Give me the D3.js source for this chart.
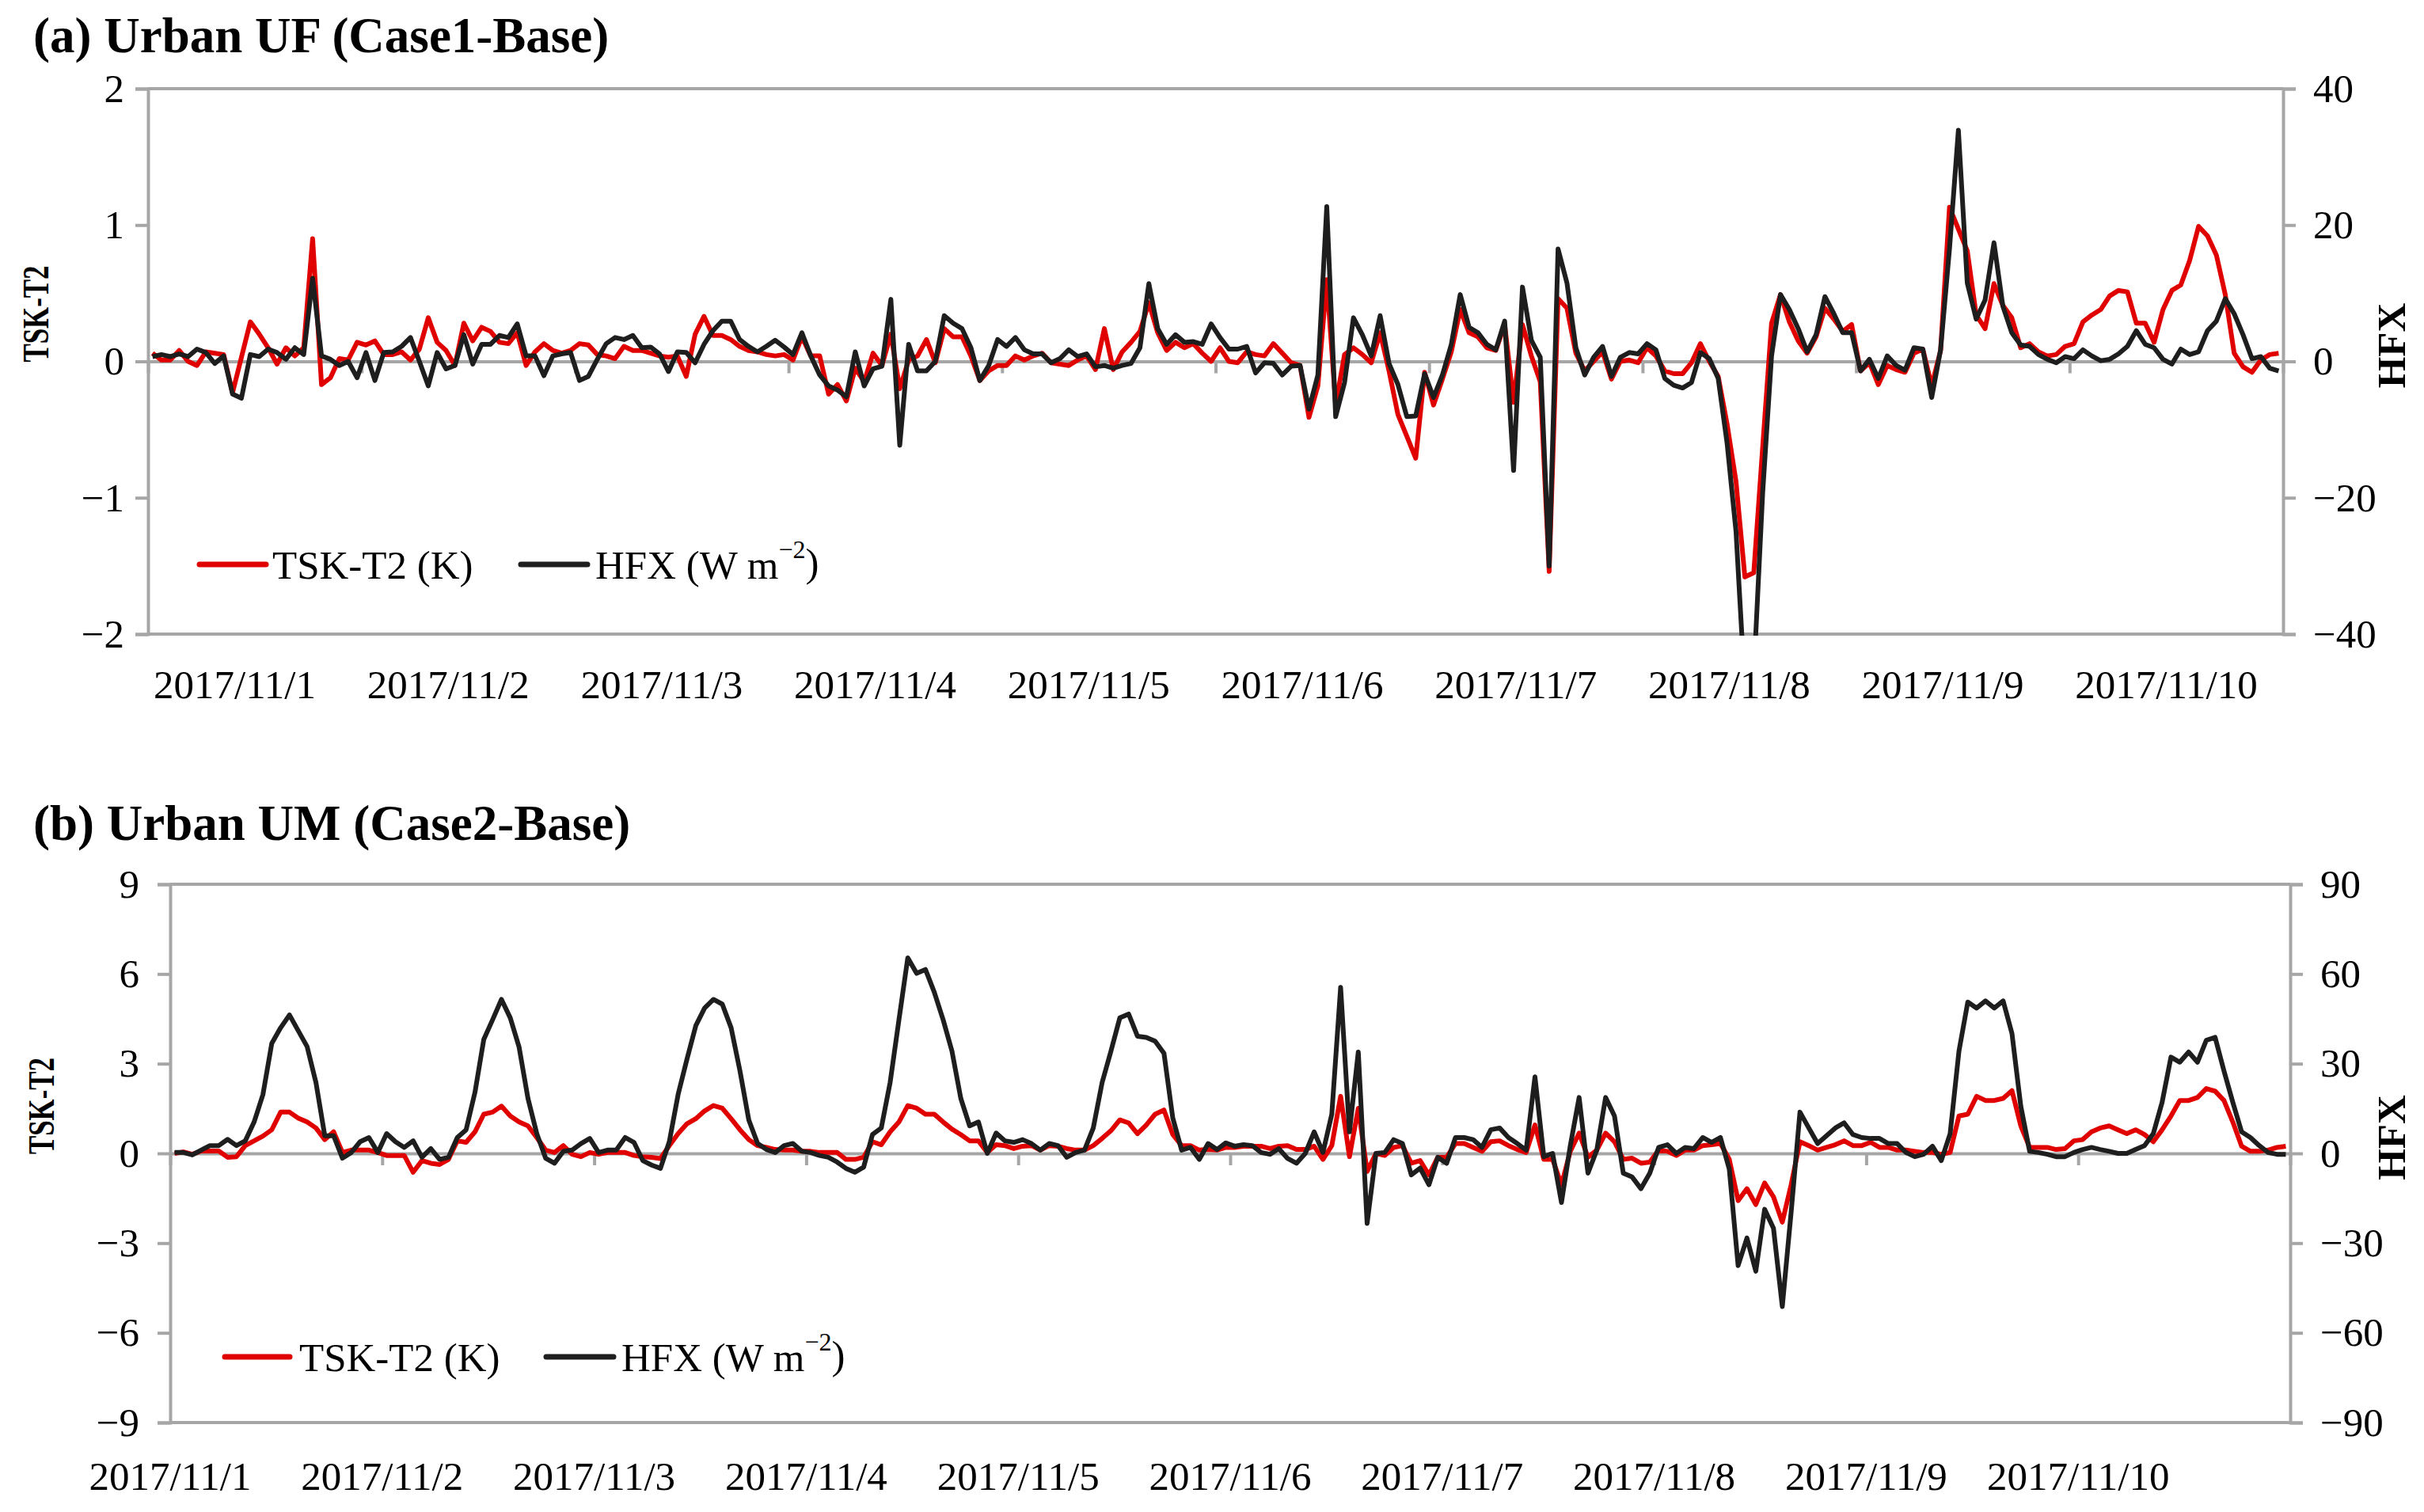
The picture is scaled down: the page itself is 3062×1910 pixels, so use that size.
<!DOCTYPE html>
<html><head><meta charset="utf-8">
<script src="https://cdn.jsdelivr.net/npm/d3@7"></script>
<style>
body{margin:0;background:#fff}
svg text{font-family:"Liberation Serif","Times New Roman",serif;fill:#000}
</style></head>
<body><svg id="c" width="3062" height="1910"></svg>
<script>
const days = ["2017/11/1","2017/11/2","2017/11/3","2017/11/4","2017/11/5","2017/11/6","2017/11/7","2017/11/8","2017/11/9","2017/11/10"];

// Panel (a) Urban UF (Case1-Base), hourly
const ufT = [0.06,0.01,0.01,0.08,0.00,-0.03,0.07,0.06,0.05,-0.23,0.03,0.29,0.20,0.10,-0.02,0.10,0.04,0.10,0.90,-0.17,-0.12,0.02,0.01,0.14,0.12,0.15,0.05,0.05,0.07,0.01,0.09,0.32,0.14,0.08,-0.03,0.28,0.15,0.25,0.22,0.14,0.13,0.21,-0.03,0.07,0.13,0.08,0.06,0.08,0.13,
0.12,0.05,0.04,0.02,0.11,0.08,0.08,0.06,0.04,0.03,0.04,-0.11,0.20,0.33,0.19,0.19,0.16,0.11,0.08,0.07,0.05,0.04,0.05,0.01,0.18,0.04,0.04,-0.24,-0.17,-0.29,-0.05,-0.15,0.06,-0.03,0.20,-0.20,0.01,0.04,0.16,-0.01,0.24,0.18,0.18,0.04,-0.14,-0.07,-0.03,-0.03,0.04,
0.01,0.04,0.06,-0.01,-0.02,-0.03,0.01,0.04,-0.06,0.24,-0.06,0.07,0.14,0.22,0.43,0.21,0.08,0.14,0.10,0.13,0.06,0.00,0.10,0.00,-0.01,0.07,0.05,0.04,0.13,0.06,-0.01,-0.03,-0.41,-0.18,0.60,-0.32,0.05,0.10,0.05,-0.01,0.21,-0.07,-0.39,-0.55,-0.71,-0.08,-0.32,-0.13,0.07,
0.38,0.21,0.18,0.10,0.08,0.27,-0.30,0.27,0.04,-0.15,-1.54,0.46,0.39,0.06,-0.07,0.00,0.07,-0.13,0.00,0.01,-0.01,0.10,0.04,-0.07,-0.09,-0.09,-0.01,0.13,0.00,-0.11,-0.46,-0.88,-1.58,-1.55,-0.63,0.28,0.49,0.29,0.15,0.06,0.18,0.39,0.31,0.22,0.27,-0.07,-0.01,-0.17,-0.03,
-0.06,-0.08,0.06,0.09,-0.18,0.08,1.13,0.97,0.81,0.34,0.24,0.57,0.41,0.32,0.10,0.13,0.07,0.04,0.05,0.11,0.13,0.29,0.34,0.38,0.48,0.52,0.51,0.28,0.28,0.14,0.38,0.52,0.56,0.74,0.99,0.92,0.78,0.49,0.06,-0.04,-0.08,0.01,0.05,0.06];
const ufH = [0.7,1.0,0.7,1.1,0.7,1.8,1.3,-0.3,0.8,-4.8,-5.4,1.0,0.7,1.8,1.3,0.3,2.0,1.0,12.2,0.8,0.3,-0.6,0,-2.4,1.3,-2.8,1.3,1.4,2.2,3.5,0,-3.6,1.3,-1.1,-0.6,3.9,-0.4,2.5,2.5,3.8,3.5,5.5,0.8,0.8,-2.1,0.8,1.1,1.3,-2.8,
-2.2,0.3,2.6,3.5,3.2,3.8,2.0,2.1,1.1,-1.5,1.4,1.3,-0.2,2.5,4.5,5.9,5.9,3.2,2.2,1.4,2.2,3.1,2.1,1.0,4.2,0.8,-2.0,-3.6,-4.2,-5.2,1.4,-3.6,-1.1,-0.7,9.1,-12.3,2.5,-1.4,-1.4,0,6.7,5.6,4.8,2.0,-2.8,-0.6,3.2,2.2,3.5,
1.7,1.1,1.1,-0.2,0.4,1.7,0.7,1.1,-0.8,-0.6,-1.0,-0.6,-0.3,2.0,11.4,4.8,2.5,3.9,2.8,2.9,2.5,5.5,3.5,1.8,1.8,2.2,-1.7,-0.2,-0.3,-2.0,-0.7,-0.6,-7.0,-2.0,22.7,-8.1,-3.1,6.4,3.9,0.8,6.7,-0.3,-3.4,-8.1,-8.0,-1.8,-5.3,-2.0,2.5,
9.8,5.0,4.2,2.5,1.7,5.9,-16.0,10.9,3.1,0.6,-30.0,16.5,11.5,2.0,-2.0,0.6,2.2,-2.2,0.6,1.3,1.1,2.6,1.7,-2.5,-3.5,-3.9,-3.1,1.3,0.4,-2.5,-12.0,-24.9,-48,-46,-19.3,0.8,9.8,7.6,4.8,1.4,3.9,9.5,7.0,4.2,4.2,-1.4,0.3,-2.5,0.8,
-0.6,-1.3,2.0,1.8,-5.3,1.7,16.5,33.9,11.5,6.2,9.0,17.4,8.1,4.2,2.4,2.2,1.0,0.3,-0.2,0.7,0.4,1.7,0.8,0.1,0.3,1.1,2.2,4.5,2.5,2.0,0.3,-0.4,1.8,1.0,1.4,4.5,5.9,9.2,7.0,3.9,0.4,0.7,-1.0,-1.4];

// Panel (b) Urban UM (Case2-Base), hourly
const umT = [0.0,0.05,-0.03,0.08,0.08,0.08,-0.13,-0.11,0.26,0.42,0.58,0.79,1.38,1.38,1.18,1.05,0.85,0.46,0.72,0.03,0.11,0.11,0.11,0.03,-0.07,-0.07,-0.07,-0.63,-0.24,-0.33,-0.37,-0.2,0.42,0.37,0.72,1.31,1.38,1.58,1.25,1.05,
0.92,0.53,0.11,0.03,0.26,-0.03,-0.11,0.03,-0.03,0.03,0.03,0.03,-0.07,-0.11,-0.13,-0.17,0.26,0.66,0.99,1.16,1.42,1.6,1.51,1.16,0.79,0.46,0.26,0.2,0.13,0.11,0.11,0.07,0.07,0.03,0.03,0.03,-0.2,-0.2,-0.13,0.39,0.29,0.72,1.05,1.6,1.51,1.31,1.31,1.05,
0.81,0.63,0.42,0.42,0.03,0.29,0.26,0.16,0.24,0.26,0.11,0.26,0.24,0.16,0.11,0.11,0.26,0.5,0.76,1.12,1.02,0.66,0.95,1.31,1.45,0.63,0.26,0.26,0.11,0.13,0.11,0.2,0.2,0.24,0.24,0.24,0.16,0.24,0.26,0.13,0.13,0.24,-0.2,0.26,1.91,-0.11,1.51,-0.6,0,
-0.07,0.2,0.26,-0.33,-0.24,-0.72,-0.13,-0.13,0.33,0.33,0.2,0.07,0.39,0.42,0.26,0.13,0.03,0.95,-0.2,-0.2,-1.05,0.07,0.68,-0.13,0.11,0.68,0.39,-0.2,-0.16,-0.33,-0.29,0.11,0.07,-0.07,0.11,0.11,0.26,0.29,0.33,-0.2,-1.58,-1.18,-1.71,-0.99,-1.45,-2.3,-1.05,0.39,
0.26,0.11,0.2,0.29,0.42,0.26,0.26,0.37,0.2,0.2,0.11,0.11,0.07,0.03,0.03,-0.03,0.03,1.25,1.31,1.91,1.77,1.77,1.84,2.1,0.92,0.2,0.2,0.2,0.13,0.16,0.42,0.46,0.72,0.85,0.92,0.79,0.66,0.79,0.63,0.39,0.79,1.25,1.77,1.77,1.87,2.17,2.08,1.77,1.05,0.24,0.07,0.07,0.11,0.2,0.24];
const umH = [0.3,0.3,-0.5,1.1,2.6,2.6,4.7,2.6,4.2,10.5,19.7,36.8,42.0,46.3,41.0,35.7,23.7,5.9,5.9,-1.6,0.3,3.9,5.3,0.3,6.6,3.9,2.0,4.2,-1.3,1.6,-2.0,-1.3,5.3,7.9,20.4,38.1,44.7,51.5,45.3,35.5,
18.4,6.6,-1.6,-3.3,0.7,1.1,3.3,5.0,0.3,1.1,1.1,5.3,3.7,-2.4,-3.9,-5.0,3.9,19.7,31.5,42.7,48.6,51.5,49.9,42.0,27.6,11.2,3.3,1.3,0.3,2.6,3.3,0.7,0.3,-0.7,-1.3,-2.9,-5.0,-6.3,-4.6,6.3,8.5,23.7,44.7,65.4,60.2,61.5,53.9,44.7,
34.2,18.4,9.2,10.5,0,6.8,4.2,3.7,4.6,3.3,1.1,3.3,2.6,-1.3,0.3,1.1,8.5,23.7,34.2,45.3,46.6,39.2,38.8,37.5,33.5,11.8,1.1,2.0,-2.0,3.3,1.3,3.5,2.4,2.9,2.6,0.3,-0.3,1.6,-1.7,-3.3,0,7.2,0.3,13.1,55.5,7.2,33.9,-23.4,0,
0.3,4.6,3.3,-7.2,-4.9,-10.5,-1.3,-3.3,5.3,5.3,4.6,2.0,7.9,8.5,5.3,3.3,1.1,25.6,-1.1,0,-16.4,2.6,18.7,-6.6,1.1,18.7,12.5,-6.6,-7.9,-11.8,-6.6,2.0,2.9,0,2.0,1.6,5.3,3.7,5.3,-5.3,-37.5,-28.3,-39.4,-18.7,-25.0,-51.2,-19.7,13.8,
8.5,3.3,5.9,8.5,10.2,6.3,5.3,5.0,5.0,3.3,3.3,0.3,-1.1,-0.3,2.4,-2.4,6.6,34.2,50.6,48.6,51.0,48.6,51.0,40.1,15.8,0.7,0.3,-0.3,-1.1,-1.1,0.3,1.3,2.0,1.3,0.7,0,0,1.3,2.6,6.6,17.1,32.2,30.5,33.9,30.5,37.8,38.8,27.6,17.1,7.2,5.3,2.6,0.3,-0.3,-0.3];

const ufLeftTicks = [-2,-1,0,1,2];
const ufRightTicks = [-40,-20,0,20,40];
const umLeftTicks = [-9,-6,-3,0,3,6,9];
const umRightTicks = [-90,-60,-30,0,30,60,90];
const seriesNames = ["TSK-T2 (K)","HFX (W m"];

const RED = "#E00000", BLACK = "#1E1E1E", GRAY = "#A6A6A6";
const svg = d3.select("#c");
const fmt = d => d < 0 ? "\u2212" + Math.abs(d) : String(d);

function panel(cfg, id) {
  const g = svg.append("g");
  const {left, right, top, bottom} = cfg;
  const n = cfg.t.length;
  const x = d3.scalePoint().domain(d3.range(n)).range([left, right]).padding(0.5);
  const xd = d3.scaleLinear().domain([0, days.length]).range([left, right]);
  const yL = d3.scaleLinear().domain(cfg.lDom).range([bottom, top]);
  const yR = d3.scaleLinear().domain(cfg.rDom).range([bottom, top]);

  [cfg.lDom[1], cfg.lDom[0]].forEach(v => {
    g.append("line").attr("x1", left).attr("x2", right).attr("y1", yL(v)).attr("y2", yL(v))
      .attr("stroke", GRAY).attr("stroke-width", 4);
  });

  const la = g.append("g").attr("transform", `translate(${left},0)`)
    .call(d3.axisLeft(yL).tickValues(cfg.lTicks).tickSize(16).tickPadding(cfg.lPad).tickFormat(fmt));
  const ra = g.append("g").attr("transform", `translate(${right},0)`)
    .call(d3.axisRight(yR).tickValues(cfg.rTicks).tickSize(16).tickPadding(22).tickFormat(fmt));
  [la, ra].forEach(a => {
    a.selectAll("path.domain").attr("stroke", GRAY).attr("stroke-width", 4);
    a.selectAll(".tick line").attr("stroke", GRAY).attr("stroke-width", 4);
    a.selectAll(".tick text").attr("font-size", 51).attr("font-family", "Liberation Serif").attr("fill", "#000");
  });

  const za = g.append("g").attr("transform", `translate(0,${yL(0)})`)
    .call(d3.axisBottom(xd).tickValues(d3.range(0, days.length + 1)).tickSize(15).tickSizeOuter(0).tickFormat(""));
  za.selectAll("path.domain").attr("stroke", GRAY).attr("stroke-width", 4);
  za.selectAll(".tick line").attr("stroke", GRAY).attr("stroke-width", 4);

  g.selectAll("text.day").data(days).join("text").attr("class", "day")
    .attr("x", (d, i) => xd(i) + cfg.labelDx)
    .attr("y", cfg.labelY)
    .attr("text-anchor", cfg.labelAnchor)
    .attr("font-size", 51).text(d => d);

  svg.append("clipPath").attr("id", "clip" + id).append("rect")
    .attr("x", left).attr("y", top - 2).attr("width", right - left).attr("height", bottom - top + 4);

  const lineL = d3.line().x((d, i) => x(i)).y(d => yL(d));
  const lineR = d3.line().x((d, i) => x(i)).y(d => yR(d));
  const pg = g.append("g").attr("clip-path", `url(#clip${id})`);
  pg.append("path").datum(cfg.t).attr("d", lineL).attr("fill", "none")
    .attr("stroke", RED).attr("stroke-width", 6).attr("stroke-linejoin", "round");
  pg.append("path").datum(cfg.h).attr("d", lineR).attr("fill", "none")
    .attr("stroke", BLACK).attr("stroke-width", 6).attr("stroke-linejoin", "round");

  g.append("text").attr("x", cfg.titleX).attr("y", cfg.titleY).attr("font-size", 63)
    .attr("font-weight", "bold").text(cfg.title);
  const mid = (top + bottom) / 2;
  g.append("text").attr("transform", `translate(${cfg.lTitleX},${mid - 60}) rotate(-90)`)
    .attr("text-anchor", "middle").attr("dy", "0.35em").attr("font-size", 46).attr("font-weight", "bold")
    .attr("textLength", 122).attr("lengthAdjust", "spacingAndGlyphs").text("TSK-T2");
  g.append("text").attr("transform", `translate(${cfg.rTitleX},${mid - 20}) rotate(-90)`)
    .attr("text-anchor", "middle").attr("dy", "0.35em").attr("font-size", 51).attr("font-weight", "bold").text("HFX");

  const ly = cfg.legY;
  const L = cfg.leg;
  g.append("line").attr("x1", L[0]).attr("x2", L[1]).attr("y1", ly).attr("y2", ly)
    .attr("stroke", RED).attr("stroke-width", 7).attr("stroke-linecap", "round");
  g.append("text").attr("x", L[2]).attr("y", ly).attr("dy", "0.35em").attr("font-size", 51).text(seriesNames[0]);
  g.append("line").attr("x1", L[3]).attr("x2", L[4]).attr("y1", ly).attr("y2", ly)
    .attr("stroke", BLACK).attr("stroke-width", 7).attr("stroke-linecap", "round");
  const t2 = g.append("text").attr("x", L[5]).attr("y", ly).attr("dy", "0.35em").attr("font-size", 51);
  t2.append("tspan").text(seriesNames[1]);
  t2.append("tspan").attr("font-size", 32).attr("dy", "-0.8em").text("\u22122");
  t2.append("tspan").attr("font-size", 51).attr("dy", "0.45em").text(")");
}

panel({left:187, right:2884, top:112, bottom:801, t:ufT, h:ufH, lDom:[-2,2], rDom:[-40,40],
  lTicks:ufLeftTicks, rTicks:ufRightTicks, lPad:14, labelDx:7, labelAnchor:"start", labelY:882,
  title:"(a) Urban UF (Case1-Base)", titleX:42, titleY:66, lTitleX:45, rTitleX:3020,
  legY:713, leg:[252,336,344,658,742,752]}, "a");

panel({left:215, right:2893, top:1117, bottom:1797, t:umT, h:umH, lDom:[-9,9], rDom:[-90,90],
  lTicks:umLeftTicks, rTicks:umRightTicks, lPad:23, labelDx:0, labelAnchor:"middle", labelY:1882,
  title:"(b) Urban UM (Case2-Base)", titleX:42, titleY:1061, lTitleX:52, rTitleX:3020,
  legY:1714, leg:[284,366,378,690,775,785]}, "b");
</script></body></html>
